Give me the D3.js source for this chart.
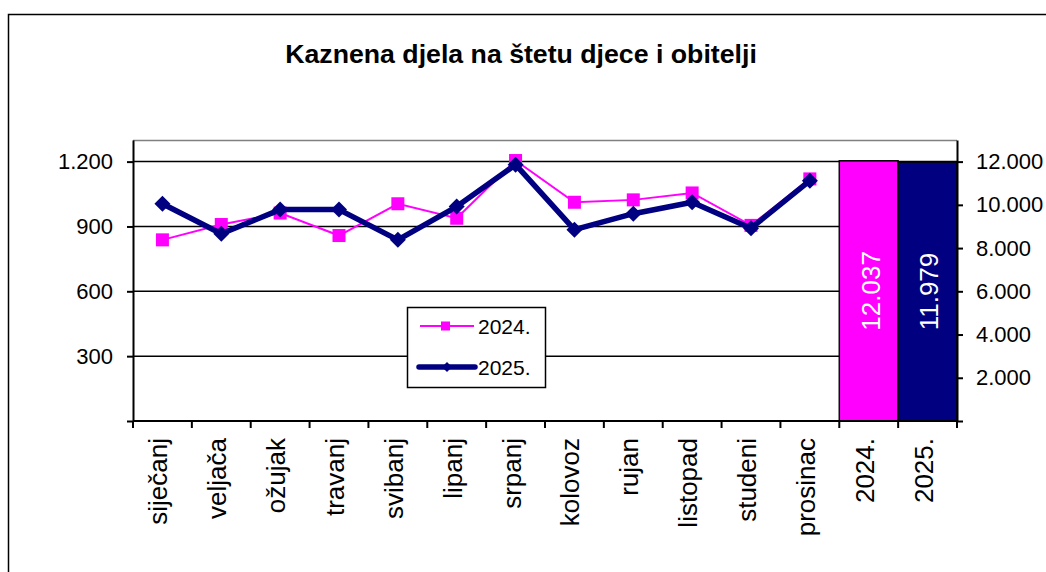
<!DOCTYPE html>
<meta charset="utf-8">
<html>
<head>
<style>
  body { margin: 0; background: #fff; }
  text { font-family: "Liberation Sans", Arial, sans-serif; }
</style>
</head>
<body>
<div id="chart"></div>
<script src="https://d3js.org/d3.v7.min.js"></script>
<script>
  // data
  var months = ["siječanj", "veljača", "ožujak", "travanj", "svibanj", "lipanj",
                "srpanj", "kolovoz", "rujan", "listopad", "studeni", "prosinac"];
  var years = ["2024.", "2025."];
  var values2024 = [838, 909, 962, 858, 1005, 938, 1205, 1012, 1023, 1055, 905, 1120];
  var values2025 = [1005, 866, 978, 978, 838, 992, 1186, 885, 959, 1012, 892, 1112];
  var totals = [12037, 11979];
  var leftTicks = [0, 300, 600, 900, 1200];
  var rightTicks = [0, 2000, 4000, 6000, 8000, 10000, 12000];
  var colors = ["#ff00ff", "#000080"];

  var width = 1046, height = 572;
  var plot = {left: 133, right: 957, top: 140, bottom: 421};

  var hr = d3.formatLocale({decimal: ",", thousands: ".", grouping: [3], currency: ["", ""]});
  var fmt = hr.format(",");

  var svg = d3.select("#chart")
    .append("svg")
      .attr("width", width)
      .attr("height", height);

  // outer chart frame (runs off the right and bottom edges)
  svg.append("rect")
    .attr("x", 8.5).attr("y", 14.5)
    .attr("width", 1100).attr("height", 700)
    .attr("fill", "none")
    .attr("stroke", "#000")
    .attr("stroke-width", 1.5);

  svg.append("text")
    .attr("x", 521).attr("y", 63)
    .attr("text-anchor", "middle")
    .style("font-size", "26.7px")
    .style("font-weight", "bold")
    .text("Kaznena djela na štetu djece i obitelji");

  var categories = months.concat(years);
  var x = d3.scaleBand()
    .domain(categories)
    .range([plot.left, plot.right])
    .padding(0);

  var yL = d3.scaleLinear().domain([0, 1300]).range([plot.bottom, plot.top]);
  var yR = d3.scaleLinear().domain([0, 13000]).range([plot.bottom, plot.top]);

  // plot area top border
  svg.append("line")
    .attr("x1", plot.left).attr("x2", plot.right)
    .attr("y1", plot.top + 0.5).attr("y2", plot.top + 0.5)
    .attr("stroke", "#808080")
    .attr("stroke-width", 1.5);

  // gridlines
  svg.append("g")
    .selectAll("line")
    .data(leftTicks.filter(function(d) { return d > 0; }))
    .enter()
    .append("line")
      .attr("x1", plot.left).attr("x2", plot.right)
      .attr("y1", function(d) { return yL(d); })
      .attr("y2", function(d) { return yL(d); })
      .attr("stroke", "#000")
      .attr("stroke-width", 1.5);

  // yearly totals as bars on the right axis
  var bars = svg.append("g")
    .selectAll("g")
    .data(years)
    .enter()
    .append("g");

  bars.append("rect")
    .attr("x", function(d) { return x(d); })
    .attr("width", x.bandwidth())
    .attr("y", function(d, i) { return yR(totals[i]); })
    .attr("height", function(d, i) { return plot.bottom - yR(totals[i]); })
    .attr("fill", function(d, i) { return colors[i]; })
    .attr("stroke", "#000")
    .attr("stroke-width", 1.5);

  bars.append("text")
    .attr("transform", function(d, i) {
      var cx = x(d) + x.bandwidth() / 2;
      var cy = (yR(totals[i]) + plot.bottom) / 2;
      return "translate(" + cx + "," + cy + ") rotate(-90)";
    })
    .attr("text-anchor", "middle")
    .attr("dy", "0.42em")
    .attr("fill", "#fff")
    .style("font-size", "26px")
    .text(function(d, i) { return fmt(totals[i]); });

  // left axis
  var leftAxis = svg.append("g")
    .attr("transform", "translate(" + plot.left + ",0)")
    .call(d3.axisLeft(yL)
      .tickValues(leftTicks)
      .tickSize(6)
      .tickSizeOuter(0)
      .tickPadding(14)
      .tickFormat(function(d) { return d === 0 ? "" : fmt(d); }));

  // right axis
  var rightAxis = svg.append("g")
    .attr("transform", "translate(" + plot.right + ",0)")
    .call(d3.axisRight(yR)
      .tickValues(rightTicks)
      .tickSize(6)
      .tickSizeOuter(0)
      .tickPadding(13)
      .tickFormat(function(d) { return d === 0 ? "" : fmt(d); }));

  [leftAxis, rightAxis].forEach(function(a) {
    a.select(".domain").attr("stroke", "#000").attr("stroke-width", 2);
    a.selectAll(".tick line").attr("stroke", "#000").attr("stroke-width", 2);
    a.selectAll(".tick text")
      .attr("fill", "#000")
      .style("font-family", "'Liberation Sans', Arial, sans-serif")
      .style("font-size", "22px");
  });

  // category axis, ticks on band edges
  var edges = categories.map(function(c) { return x(c); }).concat([plot.right]);
  var xAxis = svg.append("g");
  xAxis.append("line")
    .attr("x1", plot.left).attr("x2", plot.right)
    .attr("y1", plot.bottom).attr("y2", plot.bottom)
    .attr("stroke", "#000")
    .attr("stroke-width", 2);
  xAxis.selectAll(".edge")
    .data(edges)
    .enter()
    .append("line")
      .attr("class", "edge")
      .attr("x1", function(d) { return d; })
      .attr("x2", function(d) { return d; })
      .attr("y1", plot.bottom)
      .attr("y2", plot.bottom + 7)
      .attr("stroke", "#000")
      .attr("stroke-width", 2);
  xAxis.selectAll(".lbl")
    .data(categories)
    .enter()
    .append("text")
      .attr("class", "lbl")
      .attr("transform", function(d) {
        return "translate(" + (x(d) + x.bandwidth() / 2 + 5) + "," + (plot.bottom + 17) + ") rotate(-90)";
      })
      .attr("text-anchor", "end")
      .style("font-size", "26px")
      .text(function(d) { return d; });

  // monthly lines
  var line = d3.line()
    .x(function(d, i) { return x(months[i]) + x.bandwidth() / 2; })
    .y(function(d) { return yL(d); });

  svg.append("path")
    .datum(values2024)
    .attr("fill", "none")
    .attr("stroke", colors[0])
    .attr("stroke-width", 2)
    .attr("d", line);

  svg.append("g")
    .selectAll("rect")
    .data(values2024)
    .enter()
    .append("rect")
      .attr("x", function(d, i) { return x(months[i]) + x.bandwidth() / 2 - 6.5; })
      .attr("y", function(d) { return yL(d) - 6.5; })
      .attr("width", 13)
      .attr("height", 13)
      .attr("fill", colors[0]);

  svg.append("path")
    .datum(values2025)
    .attr("fill", "none")
    .attr("stroke", colors[1])
    .attr("stroke-width", 5.5)
    .attr("stroke-linejoin", "round")
    .attr("d", line);

  var diamond = "M0,-8L8,0L0,8L-8,0Z";
  svg.append("g")
    .selectAll("path")
    .data(values2025)
    .enter()
    .append("path")
      .attr("transform", function(d, i) {
        return "translate(" + (x(months[i]) + x.bandwidth() / 2) + "," + yL(d) + ")";
      })
      .attr("d", diamond)
      .attr("fill", colors[1]);

  // legend
  var legend = svg.append("g");
  legend.append("rect")
    .attr("x", 407.5).attr("y", 307.5)
    .attr("width", 138).attr("height", 80)
    .attr("fill", "#fff")
    .attr("stroke", "#000")
    .attr("stroke-width", 1.5);

  legend.append("line")
    .attr("x1", 420).attr("x2", 474).attr("y1", 326).attr("y2", 326)
    .attr("stroke", colors[0]).attr("stroke-width", 2);
  legend.append("rect")
    .attr("x", 441).attr("y", 321.5).attr("width", 9).attr("height", 9)
    .attr("fill", colors[0]);
  legend.append("text")
    .attr("x", 478).attr("y", 334)
    .style("font-size", "21px")
    .text(years[0]);

  legend.append("line")
    .attr("x1", 419).attr("x2", 475).attr("y1", 367).attr("y2", 367)
    .attr("stroke", colors[1]).attr("stroke-width", 5.5)
    .attr("stroke-linecap", "round");
  legend.append("path")
    .attr("transform", "translate(447,367)")
    .attr("d", "M0,-5L5,0L0,5L-5,0Z")
    .attr("fill", colors[1]);
  legend.append("text")
    .attr("x", 478).attr("y", 375)
    .style("font-size", "21px")
    .text(years[1]);
</script>
</body>
</html>
